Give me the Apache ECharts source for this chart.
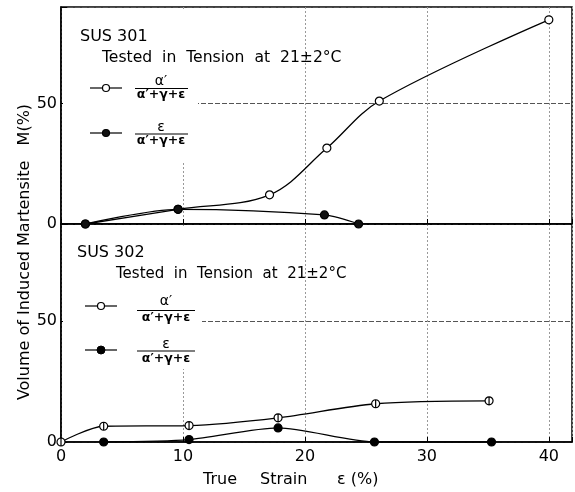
<!DOCTYPE html>
<html><head><meta charset="utf-8">
<script src="https://cdn.jsdelivr.net/npm/echarts@6/dist/echarts.min.js"></script>
<style>html,body{margin:0;padding:0;background:#fff}#c{width:575px;height:492px}</style>
</head><body><div id="c"></div>
<script>
// SUS 301
var strain301Alpha = [2, 9.6, 17.1, 21.8, 26.1, 40];
var m301Alpha = [0, 6.1, 12.1, 31.5, 51, 84.7];
var strain301Eps = [2, 9.6, 21.6, 24.4];
var m301Eps = [0, 6.1, 3.75, 0];
// SUS 302
var strain302Alpha = [0, 3.5, 10.5, 17.8, 25.8, 35.1];
var m302Alpha = [0, 6.5, 6.8, 10, 15.8, 17];
var strain302Eps = [3.5, 10.5, 17.8, 25.7, 35.3];
var m302Eps = [0, 1, 5.8, 0, 0];
// ticks
var xTicks = [0, 10, 20, 30, 40];
var yTicks = [0, 50];

function pairs(xs, ys) { return xs.map(function (x, i) { return [x, ys[i]]; }); }

var FONT = 'DejaVu Sans, sans-serif';
var phiSymbol = 'path://M10,0 A10,10 0 1,1 10,20 A10,10 0 1,1 10,0 Z M10,0 L10,20';

var chart = echarts.init(document.getElementById('c'), null, {renderer: 'canvas'});

function xAxisCfg(gi, showLabels) {
  return {
    type: 'value', gridIndex: gi, min: 0, max: 41.9, interval: 10,
    axisLine: {show: true, onZero: false, lineStyle: {color: '#000', width: 1.5}},
    axisTick: {show: true, inside: true, length: 5, lineStyle: {color: '#000'}},
    axisLabel: {show: showLabels, fontFamily: FONT, fontSize: 16, color: '#000', margin: 7,
      formatter: function (v) { return xTicks.indexOf(v) >= 0 ? String(v) : ''; }},
    splitLine: {show: true, lineStyle: {color: '#999', type: [2, 2], width: 1}}
  };
}
function yAxisCfg(gi) {
  return {
    type: 'value', gridIndex: gi, min: 0, max: 90, interval: 50,
    axisLine: {show: true, lineStyle: {color: '#000', width: 1.5}},
    axisTick: {show: true, inside: true, length: 6, lineStyle: {color: '#000'}},
    axisLabel: {fontFamily: FONT, fontSize: 16, color: '#000', margin: 4,
      formatter: function (v) { return yTicks.indexOf(v) >= 0 ? String(v) : ''; }},
    splitLine: {show: true, lineStyle: {color: '#555', type: [5, 2], width: 1}}
  };
}

function lineSeries(xi, data, symbol, fill, size, smooth) {
  return {
    type: 'line', xAxisIndex: xi, yAxisIndex: xi, data: data,
    smooth: smooth,
    symbol: symbol, symbolSize: size, showAllSymbol: true,
    lineStyle: {color: '#000', width: 1.3},
    itemStyle: {color: fill, borderColor: '#000', borderWidth: 1.2},
    z: 3
  };
}

function txt(x, y, text, size, align, extra) {
  var o = {type: 'text', x: x, y: y, z: 20,
    style: {text: text, font: size + 'px ' + FONT, fill: '#000',
      textAlign: align || 'left', textVerticalAlign: 'middle'}};
  if (extra) for (var k in extra) o[k] = extra[k];
  return o;
}
function ln(x1, y1, x2, y2, w) {
  return {type: 'line', z: 20, shape: {x1: x1, y1: y1, x2: x2, y2: y2},
    style: {stroke: '#000', lineWidth: w || 1}};
}
function fraction(cx, yNum, yBar, yDen, num, x1, x2) {
  return [
    txt(cx, yNum, num, 14, 'center'),
    ln(x1, yBar, x2, yBar, 1.2),
    {type: 'text', x: cx, y: yDen, z: 20, style: {text: 'α′+γ+ε', font: 'bold 12.5px ' + FONT, fill: '#000', textAlign: 'center', textVerticalAlign: 'middle'}}
  ];
}

var graphics = [
  {type: 'rect', z: 1, shape: {x: 63, y: 9, width: 135, height: 153}, style: {fill: '#fff'}},
  {type: 'rect', z: 1, shape: {x: 63, y: 226, width: 139, height: 143}, style: {fill: '#fff'}},
  txt(80, 37, 'SUS 301', 16),
  txt(102, 58, 'Tested  in  Tension  at  21±2°C', 15.6),
  ln(90, 88, 122, 88, 1.2),
  {type: 'circle', z: 21, shape: {cx: 106, cy: 88, r: 3.5}, style: {fill: '#fff', stroke: '#000', lineWidth: 1.2}},
  ln(90, 133, 122, 133, 1.2),
  {type: 'circle', z: 21, shape: {cx: 106, cy: 133, r: 3.5}, style: {fill: '#111', stroke: '#000', lineWidth: 1.2}},
  txt(77, 253, 'SUS 302', 16),
  txt(116, 274, 'Tested  in  Tension  at  21±2°C', 15),
  ln(85, 306, 117, 306, 1.2),
  {type: 'circle', z: 21, shape: {cx: 101, cy: 306, r: 3.5}, style: {fill: '#fff', stroke: '#000', lineWidth: 1.2}},
  ln(101, 302.5, 101, 309.5, 1.2),
  ln(85, 350, 117, 350, 1.2),
  {type: 'circle', z: 21, shape: {cx: 101, cy: 350, r: 4}, style: {fill: '#000', stroke: '#000', lineWidth: 1}},
  txt(25, 252, 'Volume of Induced Martensite   M(%)', 16, 'center', {rotation: Math.PI / 2}),
  txt(203, 480, 'True', 16),
  txt(260, 480, 'Strain', 16),
  txt(337, 480, 'ε (%)', 16)
];
graphics = graphics.concat(fraction(161, 81, 88.5, 95, 'α′', 135, 188));
graphics = graphics.concat(fraction(161, 127, 134, 141, 'ε', 135, 188));
graphics = graphics.concat(fraction(166, 301, 310.5, 318, 'α′', 137, 195));
graphics = graphics.concat(fraction(166, 344, 351, 359, 'ε', 137, 195));

chart.setOption({
  animation: false,
  backgroundColor: '#fff',
  grid: [
    {left: 61, right: 3, top: 7, height: 217, show: true, borderColor: '#000', borderWidth: 1.5, backgroundColor: 'transparent'},
    {left: 61, right: 3, top: 224, height: 218, show: true, borderColor: '#000', borderWidth: 1.5, backgroundColor: 'transparent'}
  ],
  xAxis: [xAxisCfg(0, false), xAxisCfg(1, true)],
  yAxis: [yAxisCfg(0), yAxisCfg(1)],
  series: [
    lineSeries(0, pairs(strain301Alpha, m301Alpha), 'circle', '#fff', 8, 0.35),
    lineSeries(0, pairs(strain301Eps, m301Eps), 'circle', '#111', 8, 0.3),
    lineSeries(1, pairs(strain302Alpha, m302Alpha), phiSymbol, '#fff', 8, 0.3),
    lineSeries(1, pairs(strain302Eps, m302Eps), 'circle', '#000', 8, 0.25)
  ],
  graphic: graphics
});
</script></body></html>
